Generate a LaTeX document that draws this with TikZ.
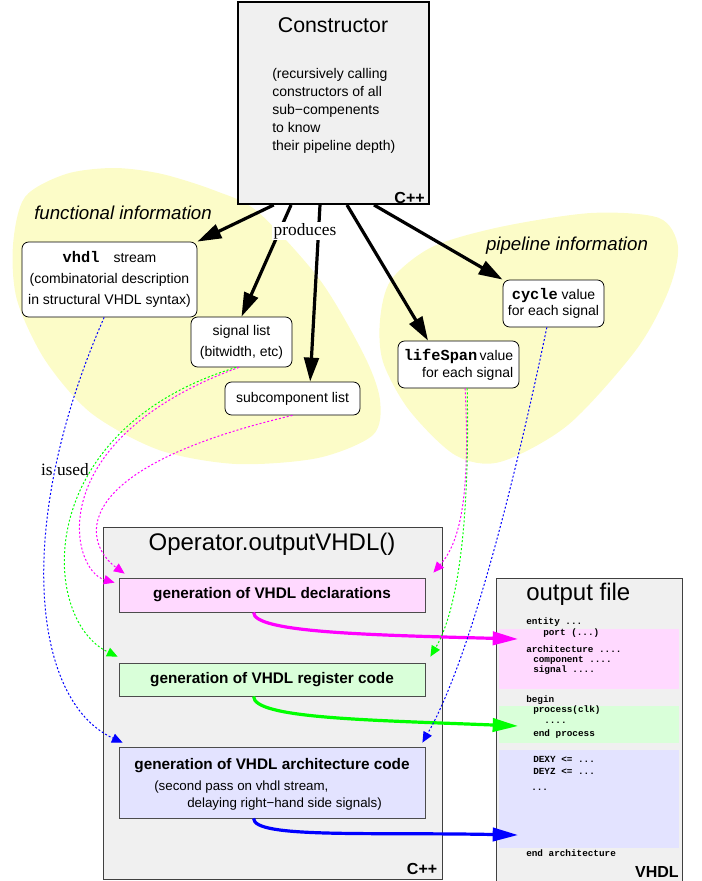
\documentclass[tikz,border=0pt]{standalone}
\usepackage{fontspec}
\setmainfont{Liberation Sans}
\setmonofont{Liberation Mono}
\newfontfamily\serifnote{Liberation Serif}
\usetikzlibrary{arrows.meta,calc,positioning}
\definecolor{blobyellow}{RGB}{252,252,200}
\definecolor{boxgray}{RGB}{240,240,240}
\definecolor{declpink}{RGB}{255,217,255}
\definecolor{reggreen}{RGB}{217,255,217}
\definecolor{archblue}{RGB}{227,227,255}
\definecolor{declline}{RGB}{255,0,255}
\definecolor{regline}{RGB}{0,255,0}
\definecolor{archline}{RGB}{0,0,255}
\newcommand\kw[1]{{\ttfamily\bfseries\fontsize{11.5}{12}\selectfont #1}}
\tikzset{
	infobox/.style={draw, rounded corners=5pt, fill=white, line width=0.6pt, inner sep=0pt, align=center, font=\fontsize{10.5}{15.75}\selectfont},
	genbox/.style={draw=black!70, line width=0.6pt, inner sep=0pt, font=\bfseries\fontsize{11.5}{12}\selectfont},
	prodarrow/.style={line width=2.4pt, -{Triangle[length=18pt,width=11pt]}},
	usearrow/.style={line width=0.75pt, dash pattern=on 1.5pt off 1.5pt, -{Triangle[length=8pt,width=7pt]}},
	writearrow/.style={line width=2.4pt, -{Triangle[length=19pt,width=10pt]}},
	codeline/.style={anchor=west, inner sep=0pt, font=\ttfamily\bfseries\fontsize{7}{8}\selectfont},
	langtag/.style={anchor=south east, inner sep=0pt, font=\bfseries\fontsize{12}{12}\selectfont},
}

\begin{document}
\begin{tikzpicture}[x=0.75pt,y=-0.75pt]
			%%%%% START %%%%%
			\useasboundingbox (0,0) rectangle (702,881);
			
			\fill[blobyellow] plot[smooth cycle] coordinates {(13,245) (25,197) (66,174) (114,168) (162,174) (216,191) (258,212) (320,280) (364,355) (380,400) (373,435) (318,458) (236,464) (159,450) (91,413) (45,360) (17,300)};
			\fill[blobyellow] plot[smooth cycle] coordinates {(380,320) (391,280) (432,247) (500,227) (591,213) (659,218) (678,247) (668,292) (636,350) (568,425) (500,462) (455,455) (409,410) (383,362)};
			
			\node[font=\itshape\fontsize{14}{14}\selectfont] (funclabel) at (123,213) {functional information};
			\node[font=\itshape\fontsize{14}{14}\selectfont] (pipelabel) at (567,246) {pipeline information};
			
			\node[draw, line width=1.5pt, fill=boxgray, minimum width=143.25pt, minimum height=151.5pt] (ctor) at (333.5,103) {};
			\node[font=\fontsize{16}{16}\selectfont] (ctortitle) at (333,25) {Constructor};
			\node[anchor=north west, inner sep=0pt, align=left, font=\fontsize{10.5}{13.5}\selectfont] (ctorbody) at (272,68) {(recursively calling\\constructors of all\\sub−compenents\\to know\\their pipeline depth)};
			\node[langtag] (ctorlang) at ([xshift=-3.75pt,yshift=0.75pt]ctor.south east) {C++};
			
			\node[infobox, minimum width=131.25pt, minimum height=56.25pt] (vhdl) at (109.5,279.5) {\kw{vhdl}\quad stream\\(combinatorial description\\in structural VHDL syntax)};
			\node[infobox, minimum width=75.75pt, minimum height=37.5pt] (siglist) at (241.5,342) {signal list\\(bitwidth, etc)};
			\node[infobox, minimum width=101.25pt, minimum height=24.75pt] (subcomp) at (292.5,398.5) {subcomponent list};
			\node[infobox, align=right, font=\fontsize{10.5}{12.75}\selectfont, minimum width=90.75pt, minimum height=35.25pt] (lifespan) at (458.5,364.5) {\kw{lifeSpan}\,value\\for each signal};
			\node[infobox, font=\fontsize{10.5}{12}\selectfont, minimum width=75.75pt, minimum height=35.25pt] (cycle) at (553.5,303.5) {\kw{cycle} value\\for each signal};
			
			\draw[prodarrow] ($(ctor.south west)!0.19!(ctor.south east)$) -- (vhdl.north east);
			\draw[prodarrow] ($(ctor.south west)!0.28!(ctor.south east)$) -- (siglist.north);
			\draw[prodarrow] ($(ctor.south west)!0.43!(ctor.south east)$) -- ($(subcomp.north west)!0.63!(subcomp.north east)$);
			\draw[prodarrow] ($(ctor.south west)!0.57!(ctor.south east)$) -- ($(lifespan.north west)!0.25!(lifespan.north east)$);
			\draw[prodarrow] ($(ctor.south west)!0.71!(ctor.south east)$) -- (cycle.north west);
			\node[fill=white, inner sep=1pt, font=\serifnote\fontsize{13}{13}\selectfont] (produces) at (305,231) {produces};
			
			\node[font=\serifnote\fontsize{13}{13}\selectfont] (isused) at (65,470) {is used};
			
			\node[draw=black!75, line width=0.75pt, fill=boxgray, minimum width=254.25pt, minimum height=264pt] (operator) at (272.5,703) {};
			\node[font=\fontsize{18}{18}\selectfont] (optitle) at (272,544) {Operator.outputVHDL()};
			\node[genbox, fill=declpink, minimum width=229.5pt, minimum height=25.5pt] (decl) at (272,595) {generation of VHDL declarations};
			\node[genbox, fill=reggreen, minimum width=229.5pt, minimum height=24.75pt] (reg) at (272,679.5) {generation of VHDL register code};
			\node[genbox, fill=archblue, minimum width=229.5pt, minimum height=53.25pt] (arch) at (272,782.5) {};
			\node[font=\bfseries\fontsize{11.5}{12}\selectfont] (archtitle) at (272,766) {generation of VHDL architecture code};
			\node[anchor=west, inner sep=0pt, font=\fontsize{10}{12}\selectfont] (archnote) at (154,787) {(second pass on vhdl stream,};
			\node[anchor=west, inner sep=0pt, font=\fontsize{10}{12}\selectfont] (archnotetwo) at (187,804) {delaying right−hand side signals)};
			\node[langtag] (oplang) at ([xshift=-3.75pt,yshift=3.75pt]operator.south east) {C++};
			
			\node[draw=black!75, line width=0.75pt, fill=boxgray, minimum width=139.5pt, minimum height=234pt] (outfile) at (589,734) {};
			\node[fill=declpink, inner sep=0pt, minimum width=135pt, minimum height=45pt] (declpart) at (589,659) {};
			\node[fill=reggreen, inner sep=0pt, minimum width=135pt, minimum height=27.75pt] (regpart) at (589,724.5) {};
			\node[fill=archblue, inner sep=0pt, minimum width=135pt, minimum height=73.5pt] (archpart) at (589,799) {};
			\node[anchor=west, inner sep=0pt, font=\fontsize{18}{18}\selectfont] (outtitle) at (526,594) {output file};
			
			\node[codeline] (code1) at (526,622) {entity ...};
			\node[codeline] (code2) at (543,633) {port (...)};
			\node[codeline] (code3) at (526,649) {architecture ....};
			\node[codeline] (code4) at (533,660) {component ....};
			\node[codeline] (code5) at (533,670) {signal ....};
			\node[codeline] (code6) at (526,700) {begin};
			\node[codeline] (code7) at (533,710) {process(clk)};
			\node[codeline] (code8) at (544,723) {....};
			\node[codeline] (code9) at (533,734) {end process};
			\node[codeline] (code10) at (533,759) {DEXY <= ...};
			\node[codeline] (code11) at (533,771) {DEYZ <= ...};
			\node[codeline] (code12) at (531,790) {...};
			\node[codeline] (code13) at (526,853) {end architecture};
			\node[langtag] (outlang) at (679,878) {VHDL};
			
			\coordinate (declin) at (518,639);
			\coordinate (regin) at (518,726);
			\coordinate (archin) at (518,835);
			\draw[writearrow, declline] ($(decl.south west)!0.44!(decl.south east)$) .. controls +(0,20) and +(-150,-4) .. (declin);
			\draw[writearrow, regline] ($(reg.south west)!0.44!(reg.south east)$) .. controls +(0,22) and +(-150,-6) .. (regin);
			\draw[writearrow, archline] ($(arch.south west)!0.44!(arch.south east)$) .. controls +(0,20) and +(-150,-3) .. (archin);
			
			\draw[usearrow, archline] ([xshift=-4pt]vhdl.south) .. controls (15,520) and (30,700) .. ([xshift=3pt,yshift=3pt]arch.north west);
			\draw[usearrow, regline] ([xshift=-4pt]siglist.south) .. controls (30,430) and (40,620) .. ([xshift=-0.75pt,yshift=4.5pt]reg.north west);
			\draw[usearrow, declline] ([xshift=-2pt]siglist.south) .. controls (40,440) and (70,570) .. ([xshift=-3pt,yshift=-3.75pt]decl.north west);
			\draw[usearrow, declline] (subcomp.south) .. controls (60,470) and (85,545) .. ([xshift=4.5pt,yshift=3pt]decl.north west);
			\draw[usearrow, declline] ([xshift=5pt]lifespan.south) .. controls (470,490) and (462,540) .. ([xshift=6pt,yshift=3.75pt]decl.north east);
			\draw[usearrow, regline] ([xshift=6.5pt]lifespan.south) .. controls (470,520) and (458,610) .. ([xshift=3.75pt,yshift=4.5pt]reg.north east);
			\draw[usearrow, archline] ([xshift=-5pt]cycle.south) .. controls (515,480) and (470,660) .. ([xshift=-2.25pt,yshift=3pt]arch.north east);
			
			%%%%% END %%%%%
\end{tikzpicture}
\end{document}
